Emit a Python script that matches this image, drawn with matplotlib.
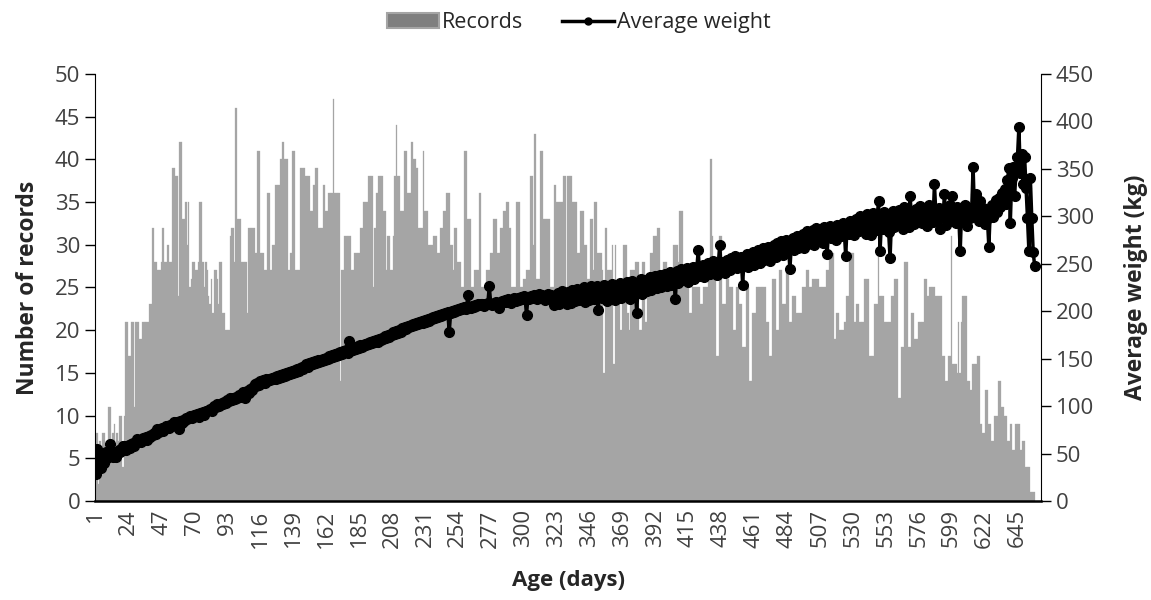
import numpy as np
import matplotlib

matplotlib.use("Agg")
import matplotlib.pyplot as plt
from matplotlib.patches import Patch
from matplotlib.lines import Line2D

# number of records per age (days 1..657)
records = [
    7, 8, 2, 7, 6, 8, 8, 6, 7, 11, 11, 6, 8, 9, 6, 8, 7, 10, 10, 4,
    10, 21, 21, 17, 17, 21, 21, 11, 21, 21, 21, 19, 19, 21, 21, 21, 21, 21, 23, 23,
    32, 28, 28, 27, 27, 27, 28, 32, 28, 28, 30, 30, 28, 28, 39, 39, 38, 38, 24, 42,
    42, 33, 33, 35, 30, 35, 25, 26, 28, 28, 27, 27, 28, 35, 35, 28, 25, 28, 27, 24,
    23, 26, 22, 27, 27, 26, 23, 28, 28, 22, 22, 20, 20, 20, 31, 32, 32, 28, 46, 33,
    33, 33, 28, 28, 28, 28, 22, 32, 32, 32, 32, 32, 29, 41, 41, 29, 29, 29, 27, 27,
    36, 36, 27, 27, 30, 30, 37, 37, 37, 40, 40, 42, 40, 40, 40, 27, 29, 29, 41, 41,
    27, 27, 27, 39, 39, 39, 39, 38, 38, 38, 34, 34, 37, 37, 39, 39, 32, 32, 32, 37,
    37, 34, 34, 36, 36, 36, 47, 36, 36, 36, 36, 14, 27, 27, 31, 31, 31, 31, 31, 27,
    27, 29, 29, 29, 29, 32, 32, 35, 35, 35, 35, 38, 38, 38, 25, 32, 36, 36, 38, 38,
    38, 34, 34, 27, 31, 31, 27, 27, 31, 38, 44, 38, 38, 34, 34, 34, 41, 41, 36, 36,
    36, 42, 40, 40, 39, 39, 32, 32, 32, 41, 34, 34, 34, 30, 30, 30, 31, 31, 31, 29,
    29, 32, 32, 34, 34, 36, 36, 36, 30, 30, 27, 32, 32, 28, 28, 28, 25, 25, 41, 41,
    33, 33, 33, 25, 25, 27, 27, 27, 36, 36, 25, 25, 25, 27, 27, 27, 29, 29, 33, 33,
    33, 29, 29, 32, 32, 34, 34, 35, 35, 32, 32, 25, 25, 25, 35, 35, 35, 25, 25, 26,
    26, 27, 27, 27, 38, 38, 30, 43, 26, 26, 26, 41, 41, 33, 33, 33, 33, 33, 25, 25,
    25, 37, 35, 35, 35, 35, 35, 38, 38, 25, 38, 38, 38, 35, 35, 35, 35, 29, 29, 34,
    34, 34, 30, 30, 26, 26, 33, 33, 27, 35, 35, 29, 29, 29, 27, 15, 32, 32, 27, 27,
    27, 30, 16, 30, 25, 25, 25, 20, 25, 30, 30, 30, 22, 20, 27, 27, 27, 28, 28, 28,
    20, 20, 28, 28, 21, 21, 26, 26, 29, 29, 31, 31, 31, 32, 32, 26, 26, 28, 28, 28,
    26, 26, 26, 26, 30, 30, 30, 28, 34, 34, 34, 27, 27, 25, 25, 22, 22, 25, 25, 25,
    25, 25, 25, 23, 23, 25, 25, 25, 26, 26, 40, 31, 26, 26, 17, 17, 31, 31, 23, 23,
    23, 26, 26, 25, 25, 25, 20, 20, 25, 25, 23, 23, 18, 18, 18, 25, 25, 14, 14, 22,
    22, 22, 25, 25, 25, 25, 25, 25, 25, 21, 21, 17, 17, 26, 26, 26, 20, 20, 27, 27,
    23, 23, 23, 27, 27, 21, 21, 24, 24, 24, 22, 22, 22, 22, 25, 25, 25, 27, 27, 25,
    25, 26, 26, 26, 26, 26, 25, 25, 25, 25, 25, 27, 27, 29, 29, 29, 19, 19, 22, 22,
    20, 20, 20, 21, 21, 24, 24, 29, 29, 29, 21, 21, 23, 23, 21, 21, 21, 26, 26, 26,
    26, 17, 17, 17, 23, 23, 23, 29, 24, 24, 24, 21, 21, 21, 21, 21, 24, 24, 26, 26,
    26, 12, 12, 18, 18, 28, 28, 28, 18, 18, 22, 22, 19, 19, 19, 21, 21, 21, 21, 26,
    26, 24, 24, 25, 25, 25, 25, 24, 24, 24, 24, 24, 17, 17, 14, 14, 17, 17, 31, 16,
    16, 16, 15, 21, 15, 21, 24, 24, 24, 14, 14, 13, 13, 16, 16, 16, 17, 17, 9, 9,
    8, 8, 13, 13, 9, 9, 7, 7, 10, 10, 10, 14, 14, 11, 11, 10, 10, 7, 7, 9,
    9, 6, 6, 9, 9, 9, 6, 6, 7, 7, 4, 4, 4, 1, 1, 1, 1,
]

# average weight (kg) per age
weights = [
    28, 55, 38, 47, 35, 44, 40, 52, 45, 48, 60, 50, 46, 52, 46, 50, 54, 52, 55, 58,
    58, 54, 57, 59, 56, 60, 61, 58, 62, 65, 63, 64, 62, 66, 65, 67, 64, 68, 67, 70,
    69, 72, 71, 76, 73, 75, 77, 74, 76, 79, 78, 77, 80, 79, 81, 83, 80, 83, 76, 84,
    82, 85, 84, 87, 86, 88, 90, 87, 89, 91, 90, 92, 89, 93, 92, 94, 91, 95, 95, 96,
    97, 95, 98, 100, 99, 102, 100, 101, 103, 102, 104, 103, 106, 105, 108, 106, 109, 107, 110, 109,
    112, 110, 113, 115, 109, 112, 116, 114, 118, 117, 120, 123, 121, 124, 122, 126, 125, 127, 124, 128,
    126, 129, 127, 130, 128, 131, 129, 132, 130, 133, 131, 134, 132, 135, 133, 136, 134, 137, 135, 138,
    136, 139, 137, 140, 141, 139, 142, 144, 141, 145, 143, 146, 144, 147, 145, 148, 146, 149, 147, 150,
    149, 151, 150, 153, 151, 154, 152, 155, 153, 156, 154, 157, 155, 158, 157, 159, 156, 169, 158, 161,
    159, 162, 160, 163, 161, 164, 162, 163, 165, 164, 166, 165, 168, 166, 169, 167, 170, 168, 171, 170,
    172, 171, 174, 172, 175, 173, 176, 175, 178, 176, 179, 177, 180, 178, 182, 180, 183, 181, 184, 183,
    185, 184, 186, 185, 188, 186, 189, 187, 190, 188, 191, 189, 192, 190, 193, 192, 194, 193, 195, 194,
    196, 195, 197, 196, 198, 197, 199, 178, 198, 200, 199, 201, 200, 202, 201, 203, 202, 204, 203, 202,
    217, 204, 203, 205, 204, 206, 205, 207, 206, 208, 207, 205, 208, 207, 209, 226, 208, 206, 209, 207,
    210, 208, 203, 209, 211, 210, 212, 210, 213, 211, 209, 212, 214, 213, 211, 214, 212, 215, 213, 216,
    214, 196, 215, 213, 216, 214, 217, 215, 213, 216, 218, 214, 217, 215, 212, 216, 218, 215, 217, 214,
    206, 216, 209, 219, 207, 214, 221, 210, 217, 208, 220, 213, 209, 222, 215, 211, 223, 216, 212, 220,
    214, 225, 210, 219, 223, 212, 226, 217, 213, 222, 227, 201, 219, 224, 214, 228, 218, 211, 225, 220,
    215, 229, 221, 212, 226, 219, 230, 214, 224, 228, 217, 231, 222, 213, 227, 232, 220, 226, 198, 230,
    224, 234, 218, 229, 233, 221, 227, 236, 222, 231, 226, 237, 224, 232, 238, 225, 234, 229, 239, 227,
    235, 241, 228, 237, 232, 213, 242, 230, 238, 244, 233, 240, 235, 245, 231, 243, 238, 247, 234, 241,
    246, 264, 237, 244, 249, 236, 247, 242, 251, 239, 246, 253, 241, 248, 238, 250, 270, 244, 252, 247,
    240, 254, 249, 243, 256, 247, 251, 258, 245, 253, 249, 257, 228, 255, 250, 260, 246, 258, 253, 262,
    249, 261, 256, 264, 251, 259, 266, 254, 262, 257, 268, 253, 264, 260, 270, 257, 272, 262, 266, 274,
    259, 268, 275, 263, 271, 244, 269, 277, 264, 273, 279, 266, 275, 270, 281, 267, 278, 284, 271, 281,
    276, 285, 270, 288, 279, 274, 286, 281, 272, 289, 278, 260, 284, 290, 277, 287, 282, 275, 291, 283,
    288, 279, 293, 284, 258, 290, 281, 295, 286, 292, 280, 297, 288, 284, 300, 290, 286, 296, 281, 302,
    288, 298, 280, 303, 292, 285, 300, 316, 263, 295, 287, 304, 291, 299, 283, 256, 296, 305, 289, 300,
    291, 307, 295, 299, 286, 310, 296, 302, 289, 321, 298, 305, 292, 308, 295, 302, 311, 293, 306, 299,
    303, 290, 312, 298, 306, 294, 334, 302, 296, 309, 287, 306, 300, 323, 291, 305, 298, 312, 321, 295,
    304, 293, 310, 300, 263, 307, 295, 312, 301, 290, 309, 298, 306, 352, 302, 323, 311, 295, 316, 302,
    309, 292, 303, 297, 268, 305, 312, 299, 308, 317, 304, 319, 310, 324, 318, 329, 313, 338, 351, 293,
    340, 352, 321, 348, 362, 394, 345, 365, 334, 362, 330, 298, 263, 340, 298, 262, 248,
]

tick_days = list(range(1, 646, 23))
n_categories = 661

plt.rcParams["font.family"] = ["Open Sans", "DejaVu Sans"]

rec_days = np.arange(1, len(records) + 1)
w_days = np.arange(1, len(weights) + 1)

fig = plt.figure(figsize=(11.51, 6.0), dpi=100)
ax1 = fig.add_axes([0.0825, 0.165, 0.822, 0.712])

ax1.bar(rec_days, records, width=1.0, color="#a5a5a5", edgecolor="#a5a5a5",
        linewidth=0.2, zorder=1)
ax1.set_xlim(0.5, n_categories + 0.5)
ax1.set_ylim(0, 50)
ax1.set_yticks(range(0, 51, 5))

ax2 = ax1.twinx()
ax2.plot(w_days, weights, color="black", linewidth=2.5, marker="o",
         markersize=7, zorder=3)
ax2.set_ylim(0, 450)
ax2.set_yticks(range(0, 451, 50))

ax1.set_xticks(tick_days)
ax1.set_xticklabels([str(d) for d in tick_days], rotation=90)

tick_color = "#404040"
for ax in (ax1, ax2):
    ax.spines["top"].set_visible(False)
    ax.tick_params(axis="y", labelsize=16, labelcolor=tick_color, length=7,
                   width=1, direction="out", color="black")
ax1.spines["right"].set_visible(False)
ax2.spines["left"].set_visible(False)
ax2.spines["bottom"].set_visible(False)
ax1.spines["bottom"].set_linewidth(1.8)
ax1.tick_params(axis="x", labelsize=16, labelcolor=tick_color, length=0, pad=6)

ax1.set_xlabel("Age (days)", fontsize=16, fontweight="bold", color="#262626",
               labelpad=16)
ax1.set_ylabel("Number of records", fontsize=16.5, fontweight="bold",
               color="#262626", labelpad=11)
ax2.set_ylabel("Average weight (kg)", fontsize=16.5, fontweight="bold",
               color="#262626", labelpad=22)

handles = [
    Patch(facecolor="#7f7f7f", edgecolor="#a5a5a5", linewidth=1.5),
    Line2D([], [], color="black", linewidth=2.5, marker="o", markersize=5),
]
fig.legend(handles, ["Records", "Average weight"], loc="upper center",
           bbox_to_anchor=(0.503, 1.012), ncol=2, frameon=False, fontsize=15.5,
           handlelength=2.4, handletextpad=0.15, columnspacing=1.8,
           labelcolor="#262626")

fig.savefig("out.png", dpi=100)
